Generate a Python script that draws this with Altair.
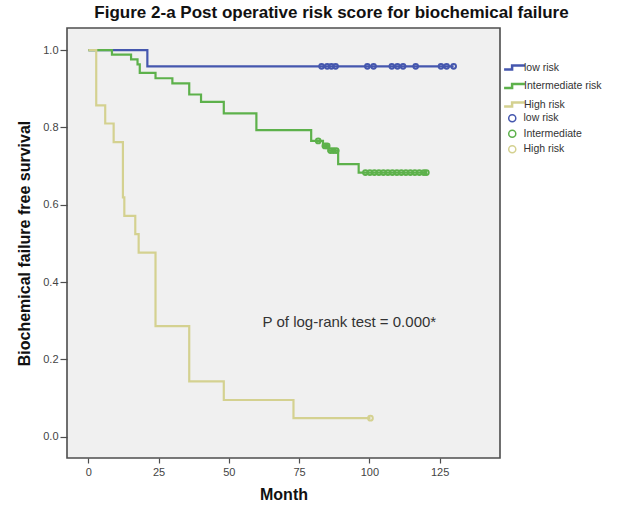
import altair as alt
import pandas as pd

FONT = "Liberation Sans"

groups = ["low risk", "Intermediate risk", "High risk"]
line_colors = ["#4557AE", "#5DB14B", "#D4D190"]
censor_groups = ["low risk", "Intermediate", "High risk"]

# Kaplan-Meier step points (time in months, survival)
low_t = [0.0, 21.0, 130.0]
low_s = [1.0, 0.958, 0.958]

mid_t = [0.0, 8.4, 15.2, 17.5, 18.3, 23.9, 29.9, 35.9, 40.1, 48.2, 59.8,
         79.3, 83.5, 85.5, 88.9, 96.2, 120.3]
mid_s = [1.0, 0.988, 0.976, 0.963, 0.941, 0.927, 0.914, 0.885, 0.866, 0.836,
         0.793, 0.765, 0.752, 0.740, 0.705, 0.683, 0.683]

high_t = [0.0, 2.8, 6.0, 9.0, 12.3, 12.8, 16.7, 17.9, 23.9, 35.9, 48.2, 73.0, 100.4]
high_s = [1.0, 0.857, 0.810, 0.762, 0.619, 0.571, 0.524, 0.476, 0.286, 0.143,
          0.095, 0.048, 0.048]

# censored observations
low_cens_t = [83.0, 85.0, 86.5, 88.0, 99.3, 101.5, 108.0, 110.0, 112.0,
              116.5, 125.5, 127.5, 130.0]
low_cens_s = [0.958] * len(low_cens_t)

mid_cens_t = [81.8, 84.2, 85.0, 86.2, 87.2, 88.2, 98.6, 100.2, 101.8, 103.4,
              105.0, 106.6, 108.2, 109.8, 111.4, 113.0, 114.6, 116.2, 117.8, 119.4, 120.3]
mid_cens_s = [0.765, 0.752, 0.752, 0.740, 0.740, 0.740] + [0.683] * 15

high_cens_t = [100.4]
high_cens_s = [0.048]

x_ticks = [0, 25, 50, 75, 100, 125]
y_ticks = [0.0, 0.2, 0.4, 0.6, 0.8, 1.0]

annotation = ["P of log-rank test = 0.000*"]
ann_x = [62.0]
ann_y = [0.297]

title_text = "Figure 2-a Post operative risk score for biochemical failure"

# ---- build tables ----
rows = []
for g, ts, ss in zip(groups, [low_t, mid_t, high_t], [low_s, mid_s, high_s]):
    for t, s in zip(ts, ss):
        rows.append({"group": g, "t": t, "s": s})
lines_df = pd.DataFrame(rows)

crows = []
for g, ts, ss in zip(censor_groups, [low_cens_t, mid_cens_t, high_cens_t],
                     [low_cens_s, mid_cens_s, high_cens_s]):
    for t, s in zip(ts, ss):
        crows.append({"cgroup": g, "t": t, "s": s})
cens_df = pd.DataFrame(crows)

ann_df = pd.DataFrame({"label": annotation, "t": ann_x, "s": ann_y})

x_scale = alt.Scale(domain=[-7.6, 146.5], nice=False, zero=False)
y_scale = alt.Scale(domain=[-0.055, 1.057], nice=False, zero=False)

x_enc = alt.X("t:Q", scale=x_scale,
              axis=alt.Axis(title="Month", values=x_ticks, format="d",
                            tickSize=5, labelPadding=3))
y_enc = alt.Y("s:Q", scale=y_scale,
              axis=alt.Axis(title="Biochemical failure free survival",
                            values=y_ticks, format=".1f",
                            tickSize=7, labelPadding=2))

stroke_enc = alt.Stroke(
    "group:N",
    scale=alt.Scale(domain=groups, range=line_colors),
    legend=alt.Legend(
        title=None, orient="none", legendX=438, legendY=30,
        symbolType="M-1.3,0.25H-0.3V-0.25H1.3",
        symbolSize=256, symbolStrokeWidth=2.5, symbolFillColor="transparent",
        labelFontSize=10.5, labelFont=FONT, labelColor="#333333",
        labelOffset=0, rowPadding=1.5, padding=0,
    ),
)

line_layers = []
for g in groups:
    line_layers.append(
        alt.Chart(lines_df)
        .transform_filter(alt.datum.group == g)
        .mark_line(interpolate="step-after", strokeWidth=2.2)
        .encode(x=x_enc, y=y_enc, stroke=stroke_enc)
    )

points = (
    alt.Chart(cens_df)
    .mark_point(shape="circle", filled=False, size=22, strokeWidth=2, opacity=1)
    .encode(
        x=x_enc, y=y_enc,
        color=alt.Color(
            "cgroup:N",
            scale=alt.Scale(domain=censor_groups, range=line_colors),
            legend=alt.Legend(
                title=None, orient="none", legendX=440, legendY=85,
                symbolType="circle", symbolSize=50, symbolStrokeWidth=1.5,
                labelFontSize=10.5, labelFont=FONT, labelColor="#333333",
                labelOffset=6, rowPadding=1.5, padding=0,
            ),
        ),
    )
)

text = (
    alt.Chart(ann_df)
    .mark_text(align="left", baseline="middle", fontSize=15, font=FONT, color="#333333")
    .encode(x=x_enc, y=y_enc, text="label:N")
)

chart = (
    alt.layer(*line_layers, points, text)
    .properties(
        width=433, height=430,
        autosize=alt.AutoSizeParams(type="none"),
        padding={"left": 67, "top": 28, "right": 121, "bottom": 54},
        title=alt.TitleParams(
            title_text, fontSize=17, font=FONT, fontWeight="bold", color="#111111",
            anchor="middle", dx=48, offset=6,
        ),
        background="white",
    )
    .configure_view(fill="#F0F0F0", stroke="#4D4D4D", strokeWidth=1.6)
    .configure_axis(
        grid=False, domain=False,
        tickColor="#4D4D4D", tickWidth=1.2,
        labelFont=FONT, labelFontSize=11, labelColor="#444444",
        titleFont=FONT, titleFontSize=16, titleFontWeight="bold", titleColor="#111111",
    )
    .configure_axisX(titlePadding=9)
    .configure_axisY(titlePadding=10)
)

chart.save("out.html", embed_options={"renderer": "svg", "actions": False})
